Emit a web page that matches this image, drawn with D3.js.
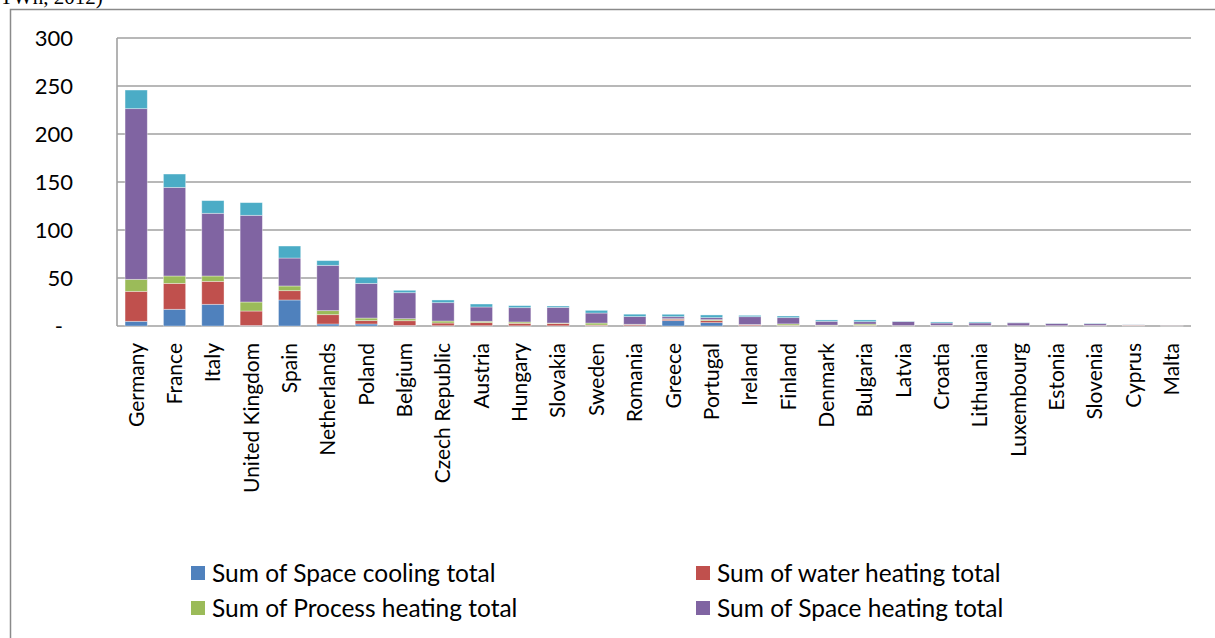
<!DOCTYPE html>
<html>
<head>
<meta charset="utf-8">
<script src="https://cdn.jsdelivr.net/npm/d3@7"></script>
<style>
  body { margin: 0; background: #fff; }
  svg { display: block; }
</style>
</head>
<body>
<svg id="chart" width="1215" height="638"></svg>
<script>
const categories = ["Germany", "France", "Italy", "United Kingdom", "Spain", "Netherlands", "Poland", "Belgium",
    "Czech Republic", "Austria", "Hungary", "Slovakia", "Sweden", "Romania", "Greece", "Portugal", "Ireland",
    "Finland", "Denmark", "Bulgaria", "Latvia", "Croatia", "Lithuania", "Luxembourg", "Estonia", "Slovenia",
    "Cyprus", "Malta"];

const spaceCooling   = [4.9, 17.4, 22.6, 0.5, 27.1, 2.1, 2.1, 0.5, 0.3, 0.3, 0.2, 0.2, 0.2, 0.3, 5.6, 3.5, 0.2, 0.2, 0.1, 0.2, 0.0, 0.1, 0.0, 0.0, 0.0, 0.0, 0.5, 0.1];
const waterHeating   = [31.2, 27.0, 23.9, 15.1, 9.7, 9.7, 3.5, 5.0, 2.8, 3.2, 2.6, 2.5, 0.8, 1.2, 1.5, 2.1, 1.0, 0.5, 0.4, 0.5, 0.2, 0.3, 0.2, 0.2, 0.2, 0.3, 0.5, 0.1];
const processHeating = [12.5, 7.7, 5.6, 9.4, 4.9, 4.2, 2.7, 2.1, 2.1, 1.4, 1.4, 0.4, 2.1, 0.3, 0.5, 1.0, 0.3, 1.5, 0.4, 1.3, 0.2, 0.2, 0.2, 0.1, 0.1, 0.2, 0.1, 0.0];
const spaceHeating   = [177.8, 92.3, 65.3, 90.3, 29.1, 47.2, 36.1, 27.1, 19.1, 14.9, 14.9, 16.3, 10.4, 8.0, 2.1, 2.1, 8.2, 6.5, 4.0, 2.5, 4.2, 2.5, 2.8, 3.0, 2.3, 1.9, 0.2, 0.0];
const otherTotal     = [19.4, 13.9, 13.2, 13.2, 12.5, 4.9, 6.3, 2.5, 2.8, 3.1, 2.1, 1.4, 2.8, 2.5, 2.5, 2.8, 1.4, 1.7, 1.4, 1.8, 0.3, 1.1, 1.0, 0.2, 0.2, 0.4, 0.1, 0.0];

// the fifth (cyan) series has no legend entry inside the visible frame
const legendNames = ["Sum of Space cooling total", "Sum of water heating total", "Sum of Process heating total",
    "Sum of Space heating total"];
const seriesColors = ["#4f81bd", "#c0504d", "#9bbb59", "#8064a2", "#4bacc6"];
const yTicks = [0, 50, 100, 150, 200, 250, 300];

const svg = d3.select("#chart");
const font = "Lato, 'Open Sans', sans-serif";

// caption line from the page above, cut off by the frame
svg.append("text").attr("x", 0).attr("y", 4)
    .attr("font-family", "'Liberation Serif', serif").attr("font-size", 21)
    .text("TWh, 2012)");

// outer chart border
svg.append("path").attr("d", "M10.5,638 L10.5,9.5 L1215,9.5")
    .attr("fill", "none").attr("stroke", "#8a8a8a").attr("stroke-width", 1.5);

const x = d3.scaleBand().domain(categories).range([117, 1191]).paddingInner(0.42).paddingOuter(0.21);
const y = d3.scaleLinear().domain([0, 300]).range([326, 38]);

// gridlines
svg.append("g").selectAll("line").data(yTicks).enter().append("line")
    .attr("x1", 117).attr("x2", 1191)
    .attr("y1", d => y(d)).attr("y2", d => y(d))
    .attr("stroke", "#a0a0a0").attr("stroke-width", 1.6);

// y axis line
svg.append("line").attr("x1", 117).attr("x2", 117).attr("y1", y(300)).attr("y2", y(0))
    .attr("stroke", "#a0a0a0").attr("stroke-width", 1.6);

// y tick labels
svg.append("g").selectAll("text").data(yTicks).enter().append("text")
    .attr("x", d => d === 0 ? 63 : 73)
    .attr("y", d => y(d))
    .attr("dy", "0.36em")
    .attr("text-anchor", "end")
    .attr("font-family", font).attr("font-size", 22)
    .text(d => d === 0 ? "-" : d);

// stacked bars
const rows = categories.map((c, i) => ({
    country: c, s0: spaceCooling[i], s1: waterHeating[i], s2: processHeating[i], s3: spaceHeating[i], s4: otherTotal[i]
}));
const stack = d3.stack().keys(["s0", "s1", "s2", "s3", "s4"]);
const layers = stack(rows);

svg.append("g").selectAll("g").data(layers).enter().append("g")
    .attr("fill", (d, i) => seriesColors[i])
    .selectAll("rect").data(d => d).enter().append("rect")
    .attr("x", d => x(d.data.country))
    .attr("width", x.bandwidth())
    .attr("y", d => y(d[1]))
    .attr("height", d => Math.max(0, y(d[0]) - y(d[1])))
    .attr("stroke", "#ffffff").attr("stroke-opacity", 0.45).attr("stroke-width", 0.8);

// category labels
svg.append("g").selectAll("text").data(categories).enter().append("text")
    .attr("transform", d => `translate(${x(d) + x.bandwidth() / 2},343) rotate(-90)`)
    .attr("dy", "0.35em")
    .attr("text-anchor", "end")
    .attr("font-family", font).attr("font-size", 21)
    .text(d => d);

// legend, two columns
const legendPos = [[191, 573], [696, 573], [191, 608], [696, 608]];
const legend = svg.append("g").selectAll("g").data(legendNames).enter().append("g")
    .attr("transform", (d, i) => `translate(${legendPos[i][0]},${legendPos[i][1]})`);
legend.append("rect").attr("x", 0).attr("y", -7).attr("width", 14).attr("height", 14)
    .attr("fill", (d, i) => seriesColors[i]);
legend.append("text").attr("x", 21).attr("y", 0).attr("dy", "0.36em")
    .attr("font-family", font).attr("font-size", 24.5)
    .text(d => d);
</script>
</body>
</html>
